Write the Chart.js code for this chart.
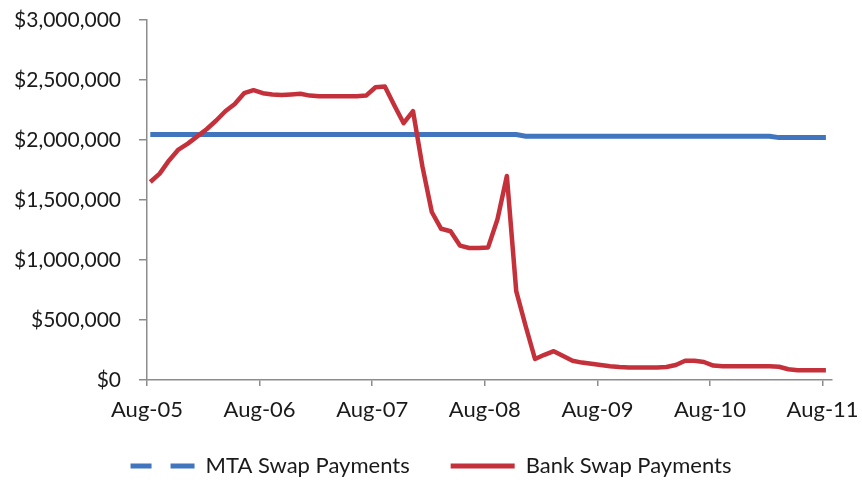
<!DOCTYPE html>
<html>
<head>
<meta charset="utf-8">
<script src="https://cdn.jsdelivr.net/npm/chart.js@4.4.0/dist/chart.umd.min.js"></script>
<style>
  html, body { margin: 0; padding: 0; background: #fff; }
  #wrap { width: 862px; height: 480px; }
</style>
</head>
<body>
<div id="wrap"><canvas id="swaps" width="862" height="480"></canvas></div>
<script>
const TICK_MONTHS = [0, 12, 24, 36, 48, 60, 72];
const TICK_LABELS = ['Aug-05', 'Aug-06', 'Aug-07', 'Aug-08', 'Aug-09', 'Aug-10', 'Aug-11'];

// one value per month, Aug-05 .. Aug-11
const MTA_PAYMENTS = [
  2045000, 2045000, 2045000, 2045000, 2045000, 2045000, 2045000, 2045000, 2045000, 2045000,
  2045000, 2045000, 2045000, 2045000, 2045000, 2045000, 2045000, 2045000, 2045000, 2045000,
  2045000, 2045000, 2045000, 2045000, 2045000, 2045000, 2045000, 2045000, 2045000, 2045000,
  2045000, 2045000, 2045000, 2045000, 2045000, 2045000, 2045000, 2045000, 2045000, 2045000,
  2032000, 2032000, 2032000, 2032000, 2032000, 2032000, 2032000, 2032000, 2032000, 2032000,
  2032000, 2032000, 2032000, 2032000, 2032000, 2032000, 2032000, 2032000, 2032000, 2032000,
  2032000, 2032000, 2032000, 2032000, 2032000, 2032000, 2032000, 2020000, 2020000, 2020000,
  2020000, 2020000, 2020000
];
const BANK_PAYMENTS = [
  1650000, 1720000, 1830000, 1920000, 1970000, 2030000, 2090000, 2160000, 2240000, 2300000,
  2390000, 2415000, 2390000, 2380000, 2375000, 2380000, 2385000, 2370000, 2365000, 2365000,
  2365000, 2365000, 2365000, 2370000, 2440000, 2445000, 2290000, 2140000, 2240000, 1780000,
  1400000, 1260000, 1240000, 1120000, 1100000, 1100000, 1105000, 1340000, 1700000, 740000,
  450000, 175000, 210000, 240000, 200000, 160000, 145000, 135000, 125000, 115000,
  108000, 105000, 105000, 105000, 105000, 108000, 125000, 160000, 160000, 150000,
  120000, 115000, 115000, 115000, 115000, 115000, 115000, 110000, 90000, 82000,
  82000, 82000, 82000
];
const POINT_SHIFT = 0.35; // readings sit a bit after the start of each month

const fmtUsd = new Intl.NumberFormat('en-US', { style: 'currency', currency: 'USD', maximumFractionDigits: 0 });
const TEXT = '#1a1a1a';
const AXIS = '#8c8c8c';
const BLUE = '#4176be';
const RED = '#c5313a';

Chart.defaults.font.family = 'Lato';

const toPoints = (values) => values.map((y, i) => ({ x: i + POINT_SHIFT, y }));

// legend sits a touch higher and further right than Chart.js puts it
// (only the top edge moves up, the box keeps its bottom so nothing gets clipped)
const legendNudge = {
  id: 'legendNudge',
  afterLayout(chart) {
    const lg = chart.legend;
    lg.top -= 11;
    lg.left += 15;
    lg.right += 15;
  }
};

new Chart(document.getElementById('swaps'), {
  type: 'line',
  data: {
    datasets: [
      {
        label: 'MTA Swap Payments',
        data: toPoints(MTA_PAYMENTS),
        borderColor: BLUE,
        backgroundColor: BLUE,
        borderWidth: 5,
        pointRadius: 0,
        order: 1
      },
      {
        label: 'Bank Swap Payments',
        data: toPoints(BANK_PAYMENTS),
        borderColor: RED,
        backgroundColor: RED,
        borderWidth: 4.5,
        pointRadius: 0,
        borderJoinStyle: 'round',
        order: 0
      }
    ]
  },
  options: {
    responsive: false,
    animation: false,
    layout: { padding: { top: 20, right: 30, left: 0, bottom: 0 } },
    scales: {
      x: {
        type: 'linear',
        min: 0,
        max: 73,
        afterBuildTicks: (axis) => { axis.ticks = TICK_MONTHS.map((value) => ({ value })); },
        afterFit: (axis) => {
          axis.height = 45;
          axis.paddingLeft = 0;
          axis.paddingRight = 0;
        },
        grid: { drawOnChartArea: false, drawTicks: true, tickLength: 6, color: AXIS, lineWidth: 1.5 },
        border: { color: AXIS, width: 1.5 },
        ticks: {
          callback: (value) => TICK_LABELS[TICK_MONTHS.indexOf(value)] ?? '',
          maxRotation: 0,
          autoSkip: false,
          padding: 11,
          color: TEXT,
          font: { size: 22 }
        }
      },
      y: {
        min: 0,
        max: 3000000,
        afterFit: (axis) => {
          axis.width = 147;
          axis.paddingTop = 0;
          axis.paddingBottom = 0;
        },
        grid: { drawOnChartArea: false, drawTicks: true, tickLength: 8, color: AXIS, lineWidth: 1.5 },
        border: { color: AXIS, width: 1.5 },
        ticks: {
          stepSize: 500000,
          callback: (value) => fmtUsd.format(value),
          padding: 18,
          color: TEXT,
          font: { size: 21 }
        }
      }
    },
    plugins: {
      tooltip: { enabled: false },
      legend: {
        position: 'bottom',
        maxHeight: 55,
        labels: {
          usePointStyle: true,
          pointStyleWidth: 64,
          padding: 41,
          color: TEXT,
          font: { size: 22 },
          generateLabels: (chart) => Chart.defaults.plugins.legend.labels.generateLabels(chart)
            .sort((a, b) => a.datasetIndex - b.datasetIndex)
            .map((item) => ({
              ...item,
              pointStyle: 'line',
              lineWidth: 5,
              lineCap: 'butt',
              lineDash: item.datasetIndex === 0 ? [21, 19, 24, 0] : []
            }))
        }
      }
    }
  },
  plugins: [legendNudge]
});
</script>
</body>
</html>
